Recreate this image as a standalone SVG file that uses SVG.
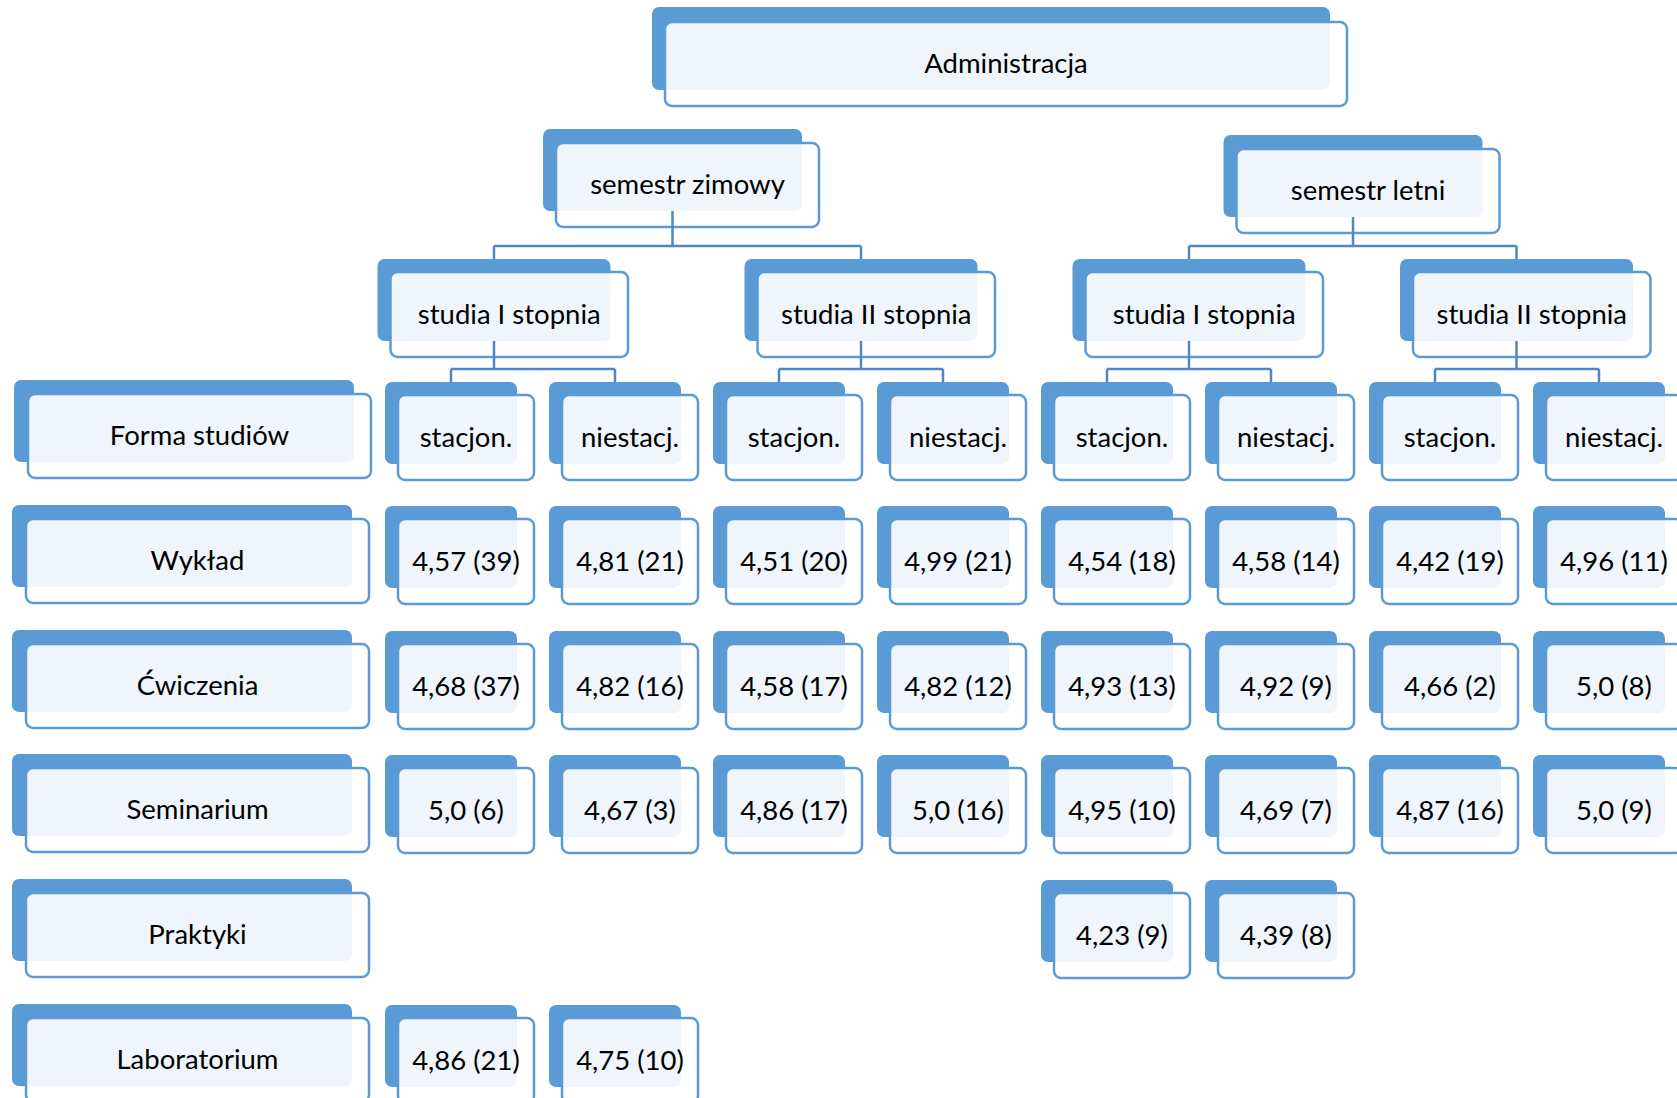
<svg xmlns="http://www.w3.org/2000/svg" width="1677" height="1098" viewBox="0 0 1677 1098">
<defs>
<style>
.b{fill:#5B9BD5}
.f{fill:#ffffff;fill-opacity:0.9;stroke:#5B9BD5;stroke-width:2.5}
.t{font-family:Lato,"Liberation Sans",sans-serif;font-size:27.5px;fill:#000;text-anchor:middle;transform:translateY(1.5px)}
.c{fill:none;stroke:#4F87C6;stroke-width:2.5}
</style>
</defs>
<rect width="1677" height="1098" fill="#fff"/>
<g id="nodes">
<g id="n-admin"><rect class="b" x="652" y="7" width="678" height="83" rx="7"/><rect class="f" x="665" y="22" width="682" height="84" rx="7"/><text class="t" x="1006" y="71.5">Administracja</text></g>
<g id="n-sem-z"><rect class="b" x="543" y="129" width="259" height="82" rx="7"/><rect class="f" x="556" y="143" width="263" height="84" rx="7"/><text class="t" x="687.5" y="192.5">semestr zimowy</text></g>
<g id="n-sem-l"><rect class="b" x="1223.5" y="135" width="259" height="82" rx="7"/><rect class="f" x="1236.5" y="149" width="263" height="84" rx="7"/><text class="t" x="1368" y="198.5">semestr letni</text></g>
<g id="n-st1-z"><rect class="b" x="377.5" y="259" width="233" height="82" rx="7"/><rect class="f" x="390.5" y="272" width="237.5" height="85" rx="7"/><text class="t" x="509.25" y="322">studia I stopnia</text></g>
<g id="n-st2-z"><rect class="b" x="744.5" y="259" width="233" height="82" rx="7"/><rect class="f" x="757.5" y="272" width="237.5" height="85" rx="7"/><text class="t" x="876.25" y="322">studia II stopnia</text></g>
<g id="n-st1-l"><rect class="b" x="1072.5" y="259" width="233" height="82" rx="7"/><rect class="f" x="1085.5" y="272" width="237.5" height="85" rx="7"/><text class="t" x="1204.25" y="322">studia I stopnia</text></g>
<g id="n-st2-l"><rect class="b" x="1400" y="259" width="233" height="82" rx="7"/><rect class="f" x="1413" y="272" width="237.5" height="85" rx="7"/><text class="t" x="1531.75" y="322">studia II stopnia</text></g>

<g id="l-forma"><rect class="b" x="14" y="380" width="340" height="82" rx="7"/><rect class="f" x="28" y="394" width="343" height="84" rx="7"/><text class="t" x="199.5" y="443.5">Forma studiów</text></g>
<g id="l-wyklad"><rect class="b" x="12" y="505" width="340" height="82" rx="7"/><rect class="f" x="26" y="519" width="343" height="84" rx="7"/><text class="t" x="197.5" y="568.5">Wykład</text></g>
<g id="l-cw"><rect class="b" x="12" y="630" width="340" height="82" rx="7"/><rect class="f" x="26" y="644" width="343" height="84" rx="7"/><text class="t" x="197.5" y="693.5">Ćwiczenia</text></g>
<g id="l-sem"><rect class="b" x="12" y="754" width="340" height="82" rx="7"/><rect class="f" x="26" y="768" width="343" height="84" rx="7"/><text class="t" x="197.5" y="817.5">Seminarium</text></g>
<g id="l-prak"><rect class="b" x="12" y="879" width="340" height="82" rx="7"/><rect class="f" x="26" y="893" width="343" height="84" rx="7"/><text class="t" x="197.5" y="942.5">Praktyki</text></g>
<g id="l-lab"><rect class="b" x="12" y="1004" width="340" height="82" rx="7"/><rect class="f" x="26" y="1018" width="343" height="84" rx="7"/><text class="t" x="197.5" y="1067.5">Laboratorium</text></g>

<g id="f0"><rect class="b" x="385" y="382" width="132" height="82" rx="7"/><rect class="f" x="398" y="395" width="136" height="85" rx="7"/><text class="t" x="466" y="445">stacjon.</text></g>
<g id="f1"><rect class="b" x="549" y="382" width="132" height="82" rx="7"/><rect class="f" x="562" y="395" width="136" height="85" rx="7"/><text class="t" x="630" y="445">niestacj.</text></g>
<g id="f2"><rect class="b" x="713" y="382" width="132" height="82" rx="7"/><rect class="f" x="726" y="395" width="136" height="85" rx="7"/><text class="t" x="794" y="445">stacjon.</text></g>
<g id="f3"><rect class="b" x="877" y="382" width="132" height="82" rx="7"/><rect class="f" x="890" y="395" width="136" height="85" rx="7"/><text class="t" x="958" y="445">niestacj.</text></g>
<g id="f4"><rect class="b" x="1041" y="382" width="132" height="82" rx="7"/><rect class="f" x="1054" y="395" width="136" height="85" rx="7"/><text class="t" x="1122" y="445">stacjon.</text></g>
<g id="f5"><rect class="b" x="1205" y="382" width="132" height="82" rx="7"/><rect class="f" x="1218" y="395" width="136" height="85" rx="7"/><text class="t" x="1286" y="445">niestacj.</text></g>
<g id="f6"><rect class="b" x="1369" y="382" width="132" height="82" rx="7"/><rect class="f" x="1382" y="395" width="136" height="85" rx="7"/><text class="t" x="1450" y="445">stacjon.</text></g>
<g id="f7"><rect class="b" x="1533" y="382" width="132" height="82" rx="7"/><rect class="f" x="1546" y="395" width="136" height="85" rx="7"/><text class="t" x="1614" y="445">niestacj.</text></g>

<g id="w0"><rect class="b" x="385" y="506" width="132" height="82" rx="7"/><rect class="f" x="398" y="519" width="136" height="85" rx="7"/><text class="t" x="466" y="569">4,57 (39)</text></g>
<g id="w1"><rect class="b" x="549" y="506" width="132" height="82" rx="7"/><rect class="f" x="562" y="519" width="136" height="85" rx="7"/><text class="t" x="630" y="569">4,81 (21)</text></g>
<g id="w2"><rect class="b" x="713" y="506" width="132" height="82" rx="7"/><rect class="f" x="726" y="519" width="136" height="85" rx="7"/><text class="t" x="794" y="569">4,51 (20)</text></g>
<g id="w3"><rect class="b" x="877" y="506" width="132" height="82" rx="7"/><rect class="f" x="890" y="519" width="136" height="85" rx="7"/><text class="t" x="958" y="569">4,99 (21)</text></g>
<g id="w4"><rect class="b" x="1041" y="506" width="132" height="82" rx="7"/><rect class="f" x="1054" y="519" width="136" height="85" rx="7"/><text class="t" x="1122" y="569">4,54 (18)</text></g>
<g id="w5"><rect class="b" x="1205" y="506" width="132" height="82" rx="7"/><rect class="f" x="1218" y="519" width="136" height="85" rx="7"/><text class="t" x="1286" y="569">4,58 (14)</text></g>
<g id="w6"><rect class="b" x="1369" y="506" width="132" height="82" rx="7"/><rect class="f" x="1382" y="519" width="136" height="85" rx="7"/><text class="t" x="1450" y="569">4,42 (19)</text></g>
<g id="w7"><rect class="b" x="1533" y="506" width="132" height="82" rx="7"/><rect class="f" x="1546" y="519" width="136" height="85" rx="7"/><text class="t" x="1614" y="569">4,96 (11)</text></g>

<g id="c0"><rect class="b" x="385" y="631" width="132" height="82" rx="7"/><rect class="f" x="398" y="644" width="136" height="85" rx="7"/><text class="t" x="466" y="694">4,68 (37)</text></g>
<g id="c1"><rect class="b" x="549" y="631" width="132" height="82" rx="7"/><rect class="f" x="562" y="644" width="136" height="85" rx="7"/><text class="t" x="630" y="694">4,82 (16)</text></g>
<g id="c2"><rect class="b" x="713" y="631" width="132" height="82" rx="7"/><rect class="f" x="726" y="644" width="136" height="85" rx="7"/><text class="t" x="794" y="694">4,58 (17)</text></g>
<g id="c3"><rect class="b" x="877" y="631" width="132" height="82" rx="7"/><rect class="f" x="890" y="644" width="136" height="85" rx="7"/><text class="t" x="958" y="694">4,82 (12)</text></g>
<g id="c4"><rect class="b" x="1041" y="631" width="132" height="82" rx="7"/><rect class="f" x="1054" y="644" width="136" height="85" rx="7"/><text class="t" x="1122" y="694">4,93 (13)</text></g>
<g id="c5"><rect class="b" x="1205" y="631" width="132" height="82" rx="7"/><rect class="f" x="1218" y="644" width="136" height="85" rx="7"/><text class="t" x="1286" y="694">4,92 (9)</text></g>
<g id="c6"><rect class="b" x="1369" y="631" width="132" height="82" rx="7"/><rect class="f" x="1382" y="644" width="136" height="85" rx="7"/><text class="t" x="1450" y="694">4,66 (2)</text></g>
<g id="c7"><rect class="b" x="1533" y="631" width="132" height="82" rx="7"/><rect class="f" x="1546" y="644" width="136" height="85" rx="7"/><text class="t" x="1614" y="694">5,0 (8)</text></g>

<g id="s0"><rect class="b" x="385" y="755" width="132" height="82" rx="7"/><rect class="f" x="398" y="768" width="136" height="85" rx="7"/><text class="t" x="466" y="818">5,0 (6)</text></g>
<g id="s1"><rect class="b" x="549" y="755" width="132" height="82" rx="7"/><rect class="f" x="562" y="768" width="136" height="85" rx="7"/><text class="t" x="630" y="818">4,67 (3)</text></g>
<g id="s2"><rect class="b" x="713" y="755" width="132" height="82" rx="7"/><rect class="f" x="726" y="768" width="136" height="85" rx="7"/><text class="t" x="794" y="818">4,86 (17)</text></g>
<g id="s3"><rect class="b" x="877" y="755" width="132" height="82" rx="7"/><rect class="f" x="890" y="768" width="136" height="85" rx="7"/><text class="t" x="958" y="818">5,0 (16)</text></g>
<g id="s4"><rect class="b" x="1041" y="755" width="132" height="82" rx="7"/><rect class="f" x="1054" y="768" width="136" height="85" rx="7"/><text class="t" x="1122" y="818">4,95 (10)</text></g>
<g id="s5"><rect class="b" x="1205" y="755" width="132" height="82" rx="7"/><rect class="f" x="1218" y="768" width="136" height="85" rx="7"/><text class="t" x="1286" y="818">4,69 (7)</text></g>
<g id="s6"><rect class="b" x="1369" y="755" width="132" height="82" rx="7"/><rect class="f" x="1382" y="768" width="136" height="85" rx="7"/><text class="t" x="1450" y="818">4,87 (16)</text></g>
<g id="s7"><rect class="b" x="1533" y="755" width="132" height="82" rx="7"/><rect class="f" x="1546" y="768" width="136" height="85" rx="7"/><text class="t" x="1614" y="818">5,0 (9)</text></g>

<g id="p4"><rect class="b" x="1041" y="880" width="132" height="82" rx="7"/><rect class="f" x="1054" y="893" width="136" height="85" rx="7"/><text class="t" x="1122" y="943">4,23 (9)</text></g>
<g id="p5"><rect class="b" x="1205" y="880" width="132" height="82" rx="7"/><rect class="f" x="1218" y="893" width="136" height="85" rx="7"/><text class="t" x="1286" y="943">4,39 (8)</text></g>

<g id="lab0"><rect class="b" x="385" y="1005" width="132" height="82" rx="7"/><rect class="f" x="398" y="1018" width="136" height="85" rx="7"/><text class="t" x="466" y="1068">4,86 (21)</text></g>
<g id="lab1"><rect class="b" x="549" y="1005" width="132" height="82" rx="7"/><rect class="f" x="562" y="1018" width="136" height="85" rx="7"/><text class="t" x="630" y="1068">4,75 (10)</text></g>
</g>
<g id="connectors" class="c">
<path d="M672.5 211V246M494 246H861M494 246V259M861 246V259"/>
<path d="M1353 217V246M1189 246H1516.5M1189 246V259M1516.5 246V259"/>
<path d="M494 341V369M451 369H615M451 369V382M615 369V382"/>
<path d="M861 341V369M779 369H943M779 369V382M943 369V382"/>
<path d="M1189 341V369M1107 369H1271M1107 369V382M1271 369V382"/>
<path d="M1516.5 341V369M1435 369H1599M1435 369V382M1599 369V382"/>
</g>
</svg>
